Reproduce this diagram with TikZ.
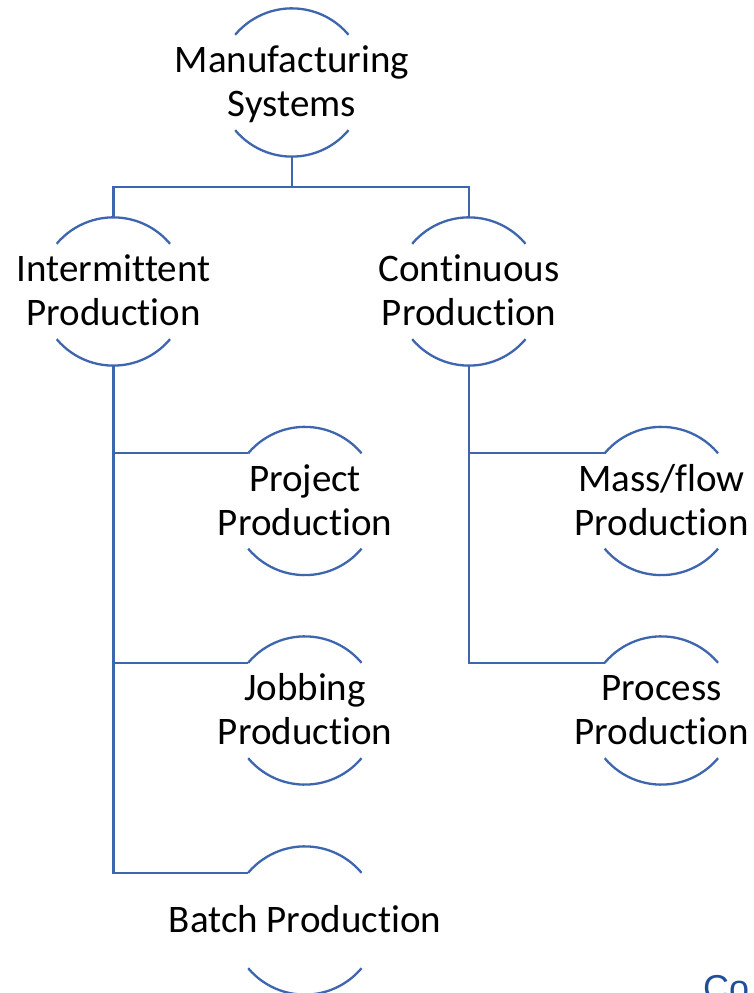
\documentclass[tikz,border=0pt]{standalone}
\usepackage{fontspec}
\setmainfont{Carlito}[Ligatures={NoCommon},RawFeature={-liga;-dlig}]
\newfontfamily\cofont{Liberation Sans}
\definecolor{linkblue}{HTML}{3E66AE}
\definecolor{cotext}{HTML}{1F4E9A}
\begin{document}
\begin{tikzpicture}[x=1pt,y=1pt,
  ring/.style={circle,draw=none,minimum size=148pt,inner sep=0pt},
  lbl/.style={font=\fontsize{39}{44}\selectfont,align=center,inner sep=0pt,yshift=-3.7pt},
  conn/.style={draw=linkblue,line width=2.3pt}]
\useasboundingbox (0,0) rectangle (754,993);
\clip (0,0) rectangle (754,993);

% hidden circles that carry the arcs and connector anchors
\node[ring] (man)   at (292,910.5) {};
\node[ring] (int)   at (113.5,701.5) {};
\node[ring] (cont)  at (469,701.5) {};
\node[ring] (proj)  at (305,492) {};
\node[ring] (job)   at (305,282.5) {};
\node[ring] (batch) at (305,72.5) {};
\node[ring] (mass)  at (661.5,492) {};
\node[ring] (proc)  at (661.5,282.5) {};
\coordinate (bus) at (292,806);

% top and bottom arcs of every circle
\foreach \n in {man,int,cont,proj,job,batch,mass,proc}{
  \draw[conn] (\n.140) arc[start angle=140,end angle=40,radius=74pt];
  \draw[conn] (\n.220) arc[start angle=220,end angle=320,radius=74pt];
}

% labels
\node[lbl] (manT)   at (man)   {\strut Manufacturing\\\strut Systems};
\node[lbl] (intT)   at (int)   {\strut Intermittent\\\strut Production};
\node[lbl] (contT)  at (cont)  {\strut Continuous\\\strut Production};
\node[lbl] (projT)  at (proj)  {\strut Project\\\strut Production};
\node[lbl] (jobT)   at (job)   {\strut Jobbing\\\strut Production};
\node[lbl] (batchT) at (batch) {\strut Batch Production};
\node[lbl] (massT)  at (mass)  {\strut Mass/flow\\\strut Production};
\node[lbl] (procT)  at (proc)  {\strut Process\\\strut Production};

% connectors
\draw[conn] (man.south) -- (bus) -| (int.north);
\draw[conn] (bus) -| (cont.north);
\draw[conn] (int.south) |- (proj.140);
\draw[conn] (int.south) |- (job.140);
\draw[conn] (int.south) |- (batch.140);
\draw[conn] (cont.south) |- (mass.140);
\draw[conn] (cont.south) |- (proc.140);

% cut-off caption in the corner
\node[anchor=base west,inner sep=0pt,font=\cofont\fontsize{36}{40}\selectfont,text=cotext] (co) at (703,-8) {Co};
\end{tikzpicture}
\end{document}
